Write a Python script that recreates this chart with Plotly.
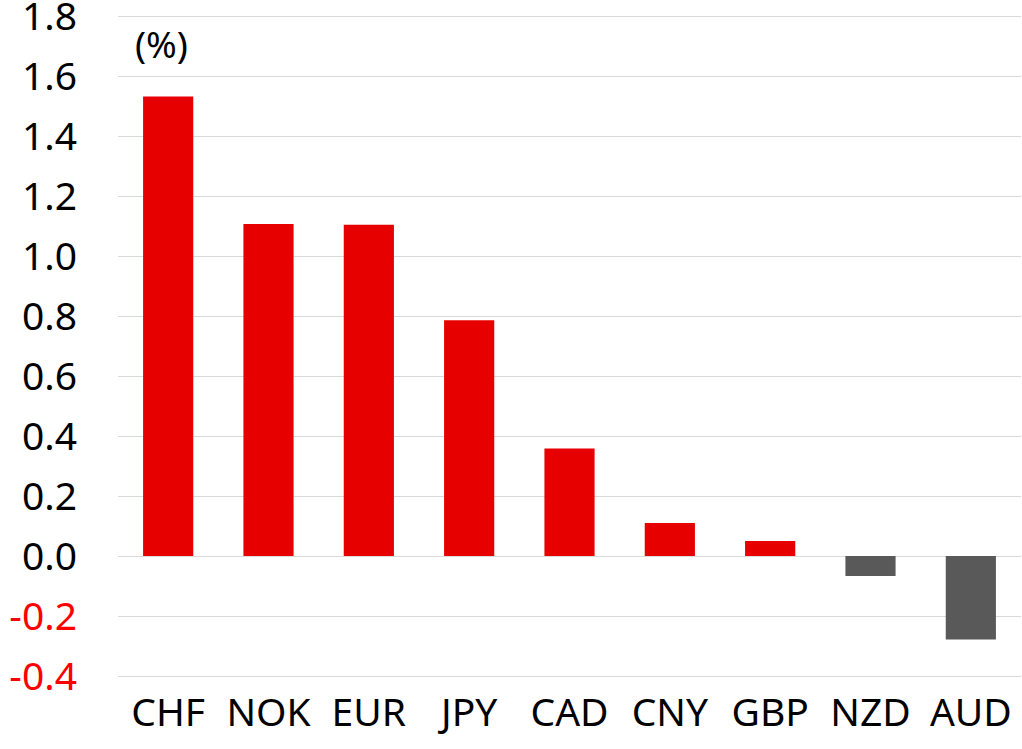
import plotly.graph_objects as go

categories = ["CHF", "NOK", "EUR", "JPY", "CAD", "CNY", "GBP", "NZD", "AUD"]
values = [1.532, 1.107, 1.104, 0.786, 0.358, 0.110, 0.050, -0.067, -0.278]
tick_vals = [-0.4, -0.2, 0.0, 0.2, 0.4, 0.6, 0.8, 1.0, 1.2, 1.4, 1.6, 1.8]

RED = "#E60000"
GRAY = "#595959"
colors = [RED if v >= 0 else GRAY for v in values]
tick_text = [
    (f"<span style='color:#FF0000'>{v:.1f}</span>" if v < 0 else f"{v:.1f}")
    for v in tick_vals
]

fig = go.Figure(go.Bar(x=categories, y=values, marker_color=colors,
                       marker_line_width=0, width=0.5))

FONT = "Noto Sans, sans-serif"
fig.update_layout(
    width=1022, height=749,
    margin=dict(l=118, r=1, t=13, b=70),
    plot_bgcolor="white", paper_bgcolor="white",
    showlegend=False,
    font=dict(family=FONT, size=34, color="#000000"),
    bargap=0.5,
)
fig.update_yaxes(
    range=[-0.41, 1.81], tickvals=tick_vals, ticktext=tick_text,
    showgrid=True, gridcolor="#D9D9D9", gridwidth=1.3,
    zeroline=False, showline=False, ticks="",
    automargin=False, ticklabeloverflow="allow",
    ticklabelstandoff=40,
    tickfont=dict(family=FONT, size=39, color="#000000"),
)
fig.update_xaxes(
    showgrid=False, showline=False, ticks="",
    range=[-0.5, 8.5],
    automargin=False,
    ticklabelstandoff=7,
    tickfont=dict(family=FONT, size=39, color="#000000"),
)
fig.add_annotation(
    text="(%)", xref="paper", yref="paper", x=0.048, y=0.954,
    xanchor="center", yanchor="middle", showarrow=False,
    font=dict(family=FONT, size=37, color="#000000"),
)
fig.write_html("out.html", config={"displayModeBar": False},
               post_script="document.body.style.margin='0';")
